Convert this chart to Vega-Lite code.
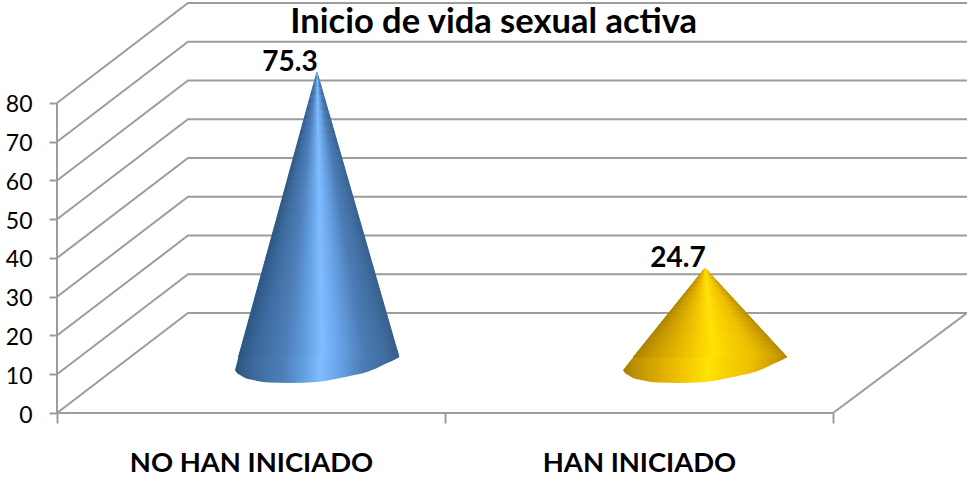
{
"$schema":"https://vega.github.io/schema/vega-lite/v6.json",
"autosize":{"type":"none"},
"padding":{"left":57,"top":0,"right":0,"bottom":66},
"width":910,"height":413,
"background":"white",
"title":{"text":"Inicio de vida sexual activa","font":"Lato","fontSize":34.5,"fontWeight":"bold","color":"#000000","anchor":"start","frame":"bounds","dx":285,"dy":0,"offset":-68,"baseline":"alphabetic"},
"config":{"view":{"stroke":null}},
"datasets":{
"grid":[
{"s":"g0","x":0,"y":0},{"s":"g0","x":0.3376,"y":25.8},{"s":"g0","x":2.3454,"y":25.8},
{"s":"g10","x":0,"y":10},{"s":"g10","x":0.3376,"y":35.8},{"s":"g10","x":2.3454,"y":35.8},
{"s":"g20","x":0,"y":20},{"s":"g20","x":0.3376,"y":45.8},{"s":"g20","x":2.3454,"y":45.8},
{"s":"g30","x":0,"y":30},{"s":"g30","x":0.3376,"y":55.8},{"s":"g30","x":2.3454,"y":55.8},
{"s":"g40","x":0,"y":40},{"s":"g40","x":0.3376,"y":65.8},{"s":"g40","x":2.3454,"y":65.8},
{"s":"g50","x":0,"y":50},{"s":"g50","x":0.3376,"y":75.8},{"s":"g50","x":2.3454,"y":75.8},
{"s":"g60","x":0,"y":60},{"s":"g60","x":0.3376,"y":85.8},{"s":"g60","x":2.3454,"y":85.8},
{"s":"g70","x":0,"y":70},{"s":"g70","x":0.3376,"y":95.8},{"s":"g70","x":2.3454,"y":95.8},
{"s":"g80","x":0,"y":80},{"s":"g80","x":0.3376,"y":105.8},{"s":"g80","x":2.3454,"y":105.8},
{"s":"floor","x":0,"y":0},{"s":"floor","x":2,"y":0},{"s":"floor","x":2.3454,"y":25.8},
{"s":"wall","x":0,"y":0},{"s":"wall","x":0,"y":80}
],
"coneA":[
{"x":0.4588,"top":11.10,"base":11.10},{"x":0.4639,"top":12.98,"base":10.32},{"x":0.4716,"top":15.80,"base":9.81},{"x":0.4845,"top":16,"base":9.03},{"x":0.5052,"top":16,"base":8.52},{"x":0.5232,"top":16,"base":8.13},{"x":0.5490,"top":16,"base":7.87},{"x":0.6005,"top":16,"base":7.74},{"x":0.6701,"top":16,"base":8.0},{"x":0.7113,"top":16,"base":8.65},{"x":0.7552,"top":16,"base":9.55},{"x":0.7990,"top":16,"base":10.58},{"x":0.8222,"top":16,"base":11.48},{"x":0.8454,"top":16,"base":12.65},{"x":0.8634,"top":16,"base":13.42},{"x":0.8770,"top":16,"base":14.1},{"x":0.8814,"top":14.45,"base":14.45}
],
"coneB":[
{"x":1.4588,"top":11.10,"base":11.10},{"x":1.4639,"top":11.74,"base":10.32},{"x":1.4716,"top":12.70,"base":9.81},{"x":1.4845,"top":14.31,"base":9.03},{"x":1.5052,"top":16,"base":8.52},{"x":1.5232,"top":16,"base":8.13},{"x":1.5490,"top":16,"base":7.87},{"x":1.6005,"top":16,"base":7.74},{"x":1.6701,"top":16,"base":8.0},{"x":1.7113,"top":16,"base":8.65},{"x":1.7552,"top":16,"base":9.55},{"x":1.7990,"top":16,"base":10.58},{"x":1.8222,"top":16,"base":11.48},{"x":1.8454,"top":16,"base":12.65},{"x":1.8634,"top":16,"base":13.42},{"x":1.8770,"top":15,"base":14.1},{"x":1.8814,"top":14.45,"base":14.45}
],
"bandsA":[
{"b":[0,1],"y":88,"l":0.6701,"r":0.6701},{"b":[1,2],"y":86,"l":0.6646,"r":0.6758},{"b":[2,3],"y":84,"l":0.6591,"r":0.6816},{"b":[3,4],"y":82,"l":0.6536,"r":0.6873},{"b":[4,5],"y":80,"l":0.6481,"r":0.6931},{"b":[5,6],"y":78,"l":0.6426,"r":0.6988},{"b":[6,7],"y":76,"l":0.6371,"r":0.7046},{"b":[7,8],"y":74,"l":0.6316,"r":0.7103},{"b":[8,9],"y":72,"l":0.6261,"r":0.7161},{"b":[9,10],"y":70,"l":0.6206,"r":0.7218},{"b":[10,11],"y":68,"l":0.6151,"r":0.7276},{"b":[11,12],"y":66,"l":0.6096,"r":0.7333},{"b":[12,13],"y":64,"l":0.6041,"r":0.7391},{"b":[13,14],"y":62,"l":0.5986,"r":0.7448},{"b":[14,15],"y":60,"l":0.5932,"r":0.7505},{"b":[15,16],"y":58,"l":0.5877,"r":0.7563},{"b":[16,17],"y":56,"l":0.5822,"r":0.7620},{"b":[17,18],"y":54,"l":0.5767,"r":0.7678},{"b":[18,19],"y":52,"l":0.5712,"r":0.7735},{"b":[19,20],"y":50,"l":0.5657,"r":0.7793},{"b":[20,21],"y":48,"l":0.5602,"r":0.7850},{"b":[21,22],"y":46,"l":0.5547,"r":0.7908},{"b":[22,23],"y":44,"l":0.5492,"r":0.7965},{"b":[23,24],"y":42,"l":0.5437,"r":0.8023},{"b":[24,25],"y":40,"l":0.5382,"r":0.8080},{"b":[25,26],"y":38,"l":0.5327,"r":0.8138},{"b":[26,27],"y":36,"l":0.5272,"r":0.8195},{"b":[27,28],"y":34,"l":0.5217,"r":0.8252},{"b":[28,29],"y":32,"l":0.5162,"r":0.8310},{"b":[29,30],"y":30,"l":0.5107,"r":0.8367},{"b":[30,31],"y":28,"l":0.5052,"r":0.8425},{"b":[31,32],"y":26,"l":0.4997,"r":0.8482},{"b":[32,33],"y":24,"l":0.4942,"r":0.8540},{"b":[33,34],"y":22,"l":0.4887,"r":0.8597},{"b":[34,35],"y":20,"l":0.4832,"r":0.8655},{"b":[35,36],"y":18,"l":0.4777,"r":0.8712},{"b":[36,37],"y":16,"l":0.4722,"r":0.8770},{"b":[37,38],"y":14.45,"l":0.4680,"r":0.8814}
],
"bandsB":[
{"b":[0,1],"y":37.42,"l":1.6701,"r":1.6701},{"b":[1,2],"y":36.42,"l":1.6621,"r":1.6793},{"b":[2,3],"y":35.42,"l":1.6540,"r":1.6885},{"b":[3,4],"y":34.42,"l":1.6460,"r":1.6977},{"b":[4,5],"y":33.42,"l":1.6380,"r":1.7069},{"b":[5,6],"y":32.42,"l":1.6300,"r":1.7161},{"b":[6,7],"y":31.42,"l":1.6219,"r":1.7253},{"b":[7,8],"y":30.42,"l":1.6139,"r":1.7345},{"b":[8,9],"y":29.42,"l":1.6059,"r":1.7437},{"b":[9,10],"y":28.42,"l":1.5978,"r":1.7529},{"b":[10,11],"y":27.42,"l":1.5898,"r":1.7621},{"b":[11,12],"y":26.42,"l":1.5818,"r":1.7713},{"b":[12,13],"y":25.42,"l":1.5738,"r":1.7805},{"b":[13,14],"y":24.42,"l":1.5657,"r":1.7897},{"b":[14,15],"y":23.42,"l":1.5577,"r":1.7989},{"b":[15,16],"y":22.42,"l":1.5497,"r":1.8081},{"b":[16,17],"y":21.42,"l":1.5417,"r":1.8173},{"b":[17,18],"y":20.42,"l":1.5336,"r":1.8265},{"b":[18,19],"y":19.42,"l":1.5256,"r":1.8357},{"b":[19,20],"y":18.42,"l":1.5176,"r":1.8449},{"b":[20,21],"y":17.42,"l":1.5095,"r":1.8541},{"b":[21,22],"y":16.42,"l":1.5015,"r":1.8633},{"b":[22,23],"y":15.42,"l":1.4935,"r":1.8725},{"b":[23,24],"y":14.45,"l":1.4857,"r":1.8814}
],
"labels":[
{"category":"NO HAN INICIADO","value":"75.3","x":0.6005,"y":88.26},
{"category":"HAN INICIADO","value":"24.7","x":1.6005,"y":37.68}
]
},
"layer":[
{"data":{"name":"grid"},
 "mark":{"type":"line","color":"#9c9c9c","strokeWidth":2},
 "encoding":{
  "x":{"field":"x","type":"quantitative","scale":{"domain":[0,2.3454],"nice":false,"zero":false},
   "axis":{"title":null,"grid":false,"domain":false,"values":[0,0.5,1,1.5,2],"tickSize":10,"tickWidth":2,"tickColor":"#9c9c9c",
    "tickOpacity":{"condition":{"test":"datum.value==0.5||datum.value==1.5","value":0},"value":1},
    "labelExpr":"datum.value==0.5?'NO HAN INICIADO':datum.value==1.5?'HAN INICIADO':''",
    "labelFont":"Lato","labelFontSize":27.4,"labelFontWeight":"bold","labelColor":"#000000","labelPadding":26,"labelOverlap":false,"labelFlush":false,"labelLimit":500}},
  "y":{"field":"y","type":"quantitative","scale":{"domain":[0,106.58],"nice":false,"zero":false},
   "axis":{"title":null,"grid":false,"domain":false,"values":[0,10,20,30,40,50,60,70,80],"tickSize":8,"tickWidth":2,"tickColor":"#9c9c9c",
    "labelFont":"Lato","labelFontSize":23,"labelColor":"#000000","labelPadding":17,"labelOffset":2}},
  "detail":{"field":"s"}
 }},
{"data":{"name":"coneA"},
 "mark":{"type":"area","interpolate":"monotone","color":{"gradient":"linear","x1":0,"y1":0,"x2":1,"y2":0,"stops":[
  {"offset":0,"color":"#2b5580"},{"offset":0.12,"color":"#3d6a9e"},{"offset":0.3,"color":"#4f80bb"},{"offset":0.42,"color":"#62a0e0"},{"offset":0.52,"color":"#80bcff"},{"offset":0.62,"color":"#6ba6ea"},{"offset":0.78,"color":"#4c7cb6"},{"offset":0.92,"color":"#3f6c9e"},{"offset":1,"color":"#345c88"}]}},
 "encoding":{"x":{"field":"x","type":"quantitative"},"y":{"field":"top","type":"quantitative"},"y2":{"field":"base"}}},
{"data":{"name":"bandsA"},
 "transform":[{"flatten":["b"]}],
 "mark":{"type":"area","orient":"horizontal","strokeWidth":1,
  "fill":{"gradient":"linear","x1":0,"y1":0,"x2":1,"y2":0,"stops":[
  {"offset":0,"color":"#2b5580"},{"offset":0.12,"color":"#3d6a9e"},{"offset":0.3,"color":"#4f80bb"},{"offset":0.42,"color":"#62a0e0"},{"offset":0.52,"color":"#80bcff"},{"offset":0.62,"color":"#6ba6ea"},{"offset":0.78,"color":"#4c7cb6"},{"offset":0.92,"color":"#3f6c9e"},{"offset":1,"color":"#345c88"}]},
  "stroke":{"gradient":"linear","x1":0,"y1":0,"x2":1,"y2":0,"stops":[
  {"offset":0,"color":"#2b5580"},{"offset":0.12,"color":"#3d6a9e"},{"offset":0.3,"color":"#4f80bb"},{"offset":0.42,"color":"#62a0e0"},{"offset":0.52,"color":"#80bcff"},{"offset":0.62,"color":"#6ba6ea"},{"offset":0.78,"color":"#4c7cb6"},{"offset":0.92,"color":"#3f6c9e"},{"offset":1,"color":"#345c88"}]}},
 "encoding":{"y":{"field":"y","type":"quantitative"},"x":{"field":"l","type":"quantitative"},"x2":{"field":"r"},"detail":{"field":"b"}}},
{"data":{"name":"coneB"},
 "mark":{"type":"area","interpolate":"monotone","color":{"gradient":"linear","x1":0,"y1":0,"x2":1,"y2":0,"stops":[
  {"offset":0,"color":"#a88000"},{"offset":0.12,"color":"#c89a00"},{"offset":0.3,"color":"#eab800"},{"offset":0.42,"color":"#f8d000"},{"offset":0.52,"color":"#ffe205"},{"offset":0.62,"color":"#fad200"},{"offset":0.78,"color":"#eebf00"},{"offset":0.92,"color":"#cc9e00"},{"offset":1,"color":"#b08800"}]}},
 "encoding":{"x":{"field":"x","type":"quantitative"},"y":{"field":"top","type":"quantitative"},"y2":{"field":"base"}}},
{"data":{"name":"bandsB"},
 "transform":[{"flatten":["b"]}],
 "mark":{"type":"area","orient":"horizontal","strokeWidth":1,
  "fill":{"gradient":"linear","x1":0,"y1":0,"x2":1,"y2":0,"stops":[
  {"offset":0,"color":"#a88000"},{"offset":0.12,"color":"#c89a00"},{"offset":0.3,"color":"#eab800"},{"offset":0.42,"color":"#f8d000"},{"offset":0.52,"color":"#ffe205"},{"offset":0.62,"color":"#fad200"},{"offset":0.78,"color":"#eebf00"},{"offset":0.92,"color":"#cc9e00"},{"offset":1,"color":"#b08800"}]},
  "stroke":{"gradient":"linear","x1":0,"y1":0,"x2":1,"y2":0,"stops":[
  {"offset":0,"color":"#a88000"},{"offset":0.12,"color":"#c89a00"},{"offset":0.3,"color":"#eab800"},{"offset":0.42,"color":"#f8d000"},{"offset":0.52,"color":"#ffe205"},{"offset":0.62,"color":"#fad200"},{"offset":0.78,"color":"#eebf00"},{"offset":0.92,"color":"#cc9e00"},{"offset":1,"color":"#b08800"}]}},
 "encoding":{"y":{"field":"y","type":"quantitative"},"x":{"field":"l","type":"quantitative"},"x2":{"field":"r"},"detail":{"field":"b"}}},
{"data":{"name":"labels"},
 "mark":{"type":"text","font":"Lato","fontSize":28,"fontWeight":"bold","color":"#000000","baseline":"alphabetic","align":"center"},
 "encoding":{"x":{"field":"x","type":"quantitative"},"y":{"field":"y","type":"quantitative"},"text":{"field":"value"}}}
]
}
